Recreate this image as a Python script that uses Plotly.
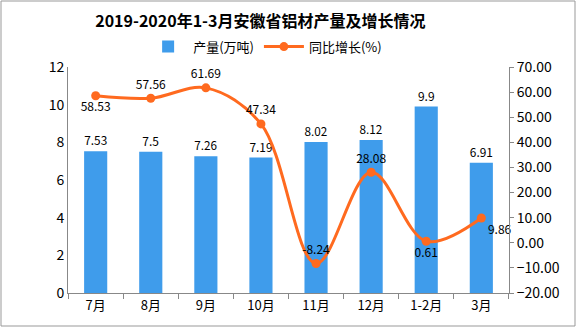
import plotly.graph_objects as go

categories = ["7月", "8月", "9月", "10月", "11月", "12月", "1-2月", "3月"]
output_values = [7.53, 7.5, 7.26, 7.19, 8.02, 8.12, 9.9, 6.91]
growth_values = [58.53, 57.56, 61.69, 47.34, -8.24, 28.08, 0.61, 9.86]
bar_labels = ["7.53", "7.5", "7.26", "7.19", "8.02", "8.12", "9.9", "6.91"]
growth_labels = ["58.53", "57.56", "61.69", "47.34", "-8.24", "28.08", "0.61", "9.86"]
growth_label_pos = ["bottom center", "top center", "top center", "top center",
                    "top center", "top center", "bottom center", "bottom right"]

FONT = "SimSun, 'Noto Sans CJK SC', 'DejaVu Sans Mono', monospace"
BAR_COLOR = "#3F9CEB"
LINE_COLOR = "#FF6A1F"

fig = go.Figure()
fig.add_trace(go.Bar(
    x=categories, y=output_values, name="产量(万吨)",
    marker=dict(color=BAR_COLOR, line=dict(width=0)),
    width=0.42,
    text=bar_labels, textposition="outside", cliponaxis=False,
    textfont=dict(size=12, color="#000000", family=FONT),
))
fig.add_trace(go.Scatter(
    x=categories, y=growth_values, name="同比增长(%)", yaxis="y2",
    mode="lines+markers+text",
    line=dict(color=LINE_COLOR, width=3, shape="spline", smoothing=1.0),
    marker=dict(color=LINE_COLOR, size=9),
    text=growth_labels, textposition=growth_label_pos, cliponaxis=False,
    textfont=dict(size=12, color="#000000", family=FONT),
))

fig.update_layout(
    width=576, height=327,
    margin=dict(l=68, r=67, t=67, b=34),
    paper_bgcolor="white", plot_bgcolor="white",
    font=dict(family=FONT, size=13, color="#000000"),
    title=dict(text="<b>2019-2020年1-3月安徽省铝材产量及增长情况</b>",
               x=0.452, xanchor="center", y=0.935, yanchor="middle",
               font=dict(size=16, family=FONT, color="#000000")),
    legend=dict(orientation="h", x=0.447, xanchor="center", y=1.09, yanchor="middle",
                font=dict(size=13, family=FONT), bgcolor="rgba(0,0,0,0)",
                traceorder="normal", itemwidth=40),
    showlegend=True,
    bargap=0.58,
    xaxis=dict(type="category", showgrid=False, showline=True, linecolor="#888888",
               linewidth=1, ticks="outside", tickson="boundaries", ticklen=5,
               tickcolor="#888888", tickfont=dict(size=13, family=FONT)),
    yaxis=dict(range=[0, 12], dtick=2, showgrid=False, showline=True,
               linecolor="#888888", linewidth=1, ticks="", zeroline=False,
               tickfont=dict(size=14, family=FONT)),
    yaxis2=dict(range=[-20, 70], dtick=10, tickformat=".2f", overlaying="y",
                side="right", showgrid=False, showline=True, linecolor="#888888",
                linewidth=1, ticks="outside", ticklen=4, tickcolor="#888888",
                zeroline=False, tickfont=dict(size=14, family=FONT)),
    shapes=[dict(type="rect", xref="paper", yref="paper",
                 x0=-67/441, x1=507/441, y0=-33/226, y1=292/226,
                 line=dict(color="#999999", width=1), fillcolor="rgba(0,0,0,0)",
                 layer="below")],
)

fig.write_html("out.html")
